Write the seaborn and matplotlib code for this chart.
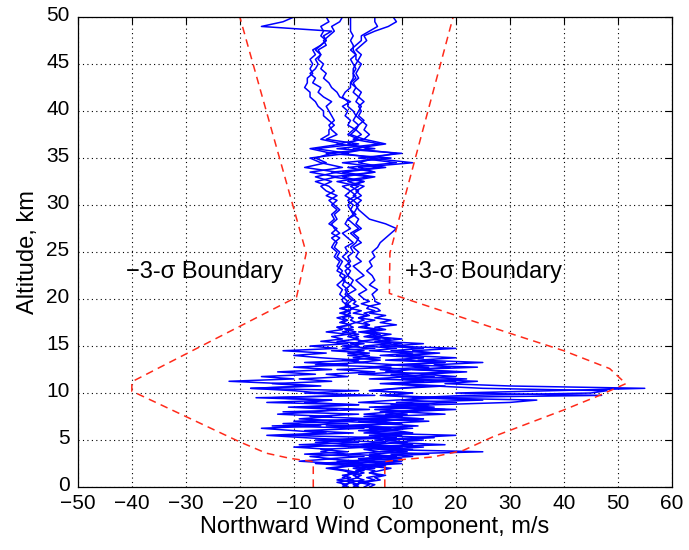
import numpy as np
import pandas as pd
import matplotlib
matplotlib.use("Agg")
import matplotlib.pyplot as plt
import matplotlib.transforms as mtransforms
import seaborn as sns

# ---------------- data ----------------
# sampling altitudes (km): 0.25 km below 20 km, 0.5 km above
alt_low = np.arange(0, 20, 0.25)
alt_high = np.arange(20, 50.01, 0.5)
altitude = np.concatenate([alt_low, alt_high])

p1 = [1, 2, 0.5, 3, 1.5, 2.5, 0, 3,
      1, 4, -2, 5, 2, 8, 0, 6,
      3, 10, 1, 7, -3, 9, 4, 12,
      2, 8, -4, 10, 5, 14, 3, 11,
      6, 18, 4, 15, 9, 25, 12, 47,
      20, 38, 55, 30, 18, 24, 10, 16,
      8, 20, 12, 24, 10, 18, 7, 14,
      6, 12, 4, 9, 3, 8, 2, 6,
      3, 5, 2, 6, 3, 4, 1.5, 3,
      2, 3.5, 1, 2.5, 0.5, 2, 1, 1.5,
      0.5, -0.5, 0, -1, -0.5, -1.5, -1, -2, -1.5, -2.5,
      -2, -3, -2.5, -1.5, -3, -2, -3.5, -2.5, -3, -2,
      -3, -2, -4, -2.5, -3.5, -6, -2, -7, -1, -5,
      -7, 0, -6, 2, -4, -2, -3, -3.5, -2.5, -3,
      -3.5, -4, -3, -4.5, -5.5, -5, -6.5, -6, -7, -6,
      -5.5, -6, -5, -5.5, -4, -4.5, -3.5, -2.5, -3, -1.5,
      -1]

p2 = [0, -1, 1, -2, 0.5, -1, 2, 0,
      -3, 1, -6, 2, -4, 3, -8, 0,
      -5, 4, -9, 2, -6, 6, -12, 1,
      -8, 3, -14, 0, -10, 5, -7, 2,
      -12, 4, -9, 2, -15, -3, -17, 5,
      -8, 2, -18, -5, -12, -22, -10, -16,
      -6, -13, -3, -10, 0, -8, 2, -5,
      -10, -4, -12, -2, -7, 0, -5, -1,
      -3, 0, -4, -1, -2, 0.5, -1.5, -0.5,
      -2, 0, -1, 0.5, -1.5, 0, -0.5, -1,
      -1, 0, -0.5, 0.5, -1, 0, -0.5, 0.5, 0, -1,
      0, -0.5, 1, 0, -1, 0.5, -0.5, 0, 1, 0.5,
      0, 1, -0.5, 0.5, 2, -2, 4, -3, 6, -1,
      8, -4, 5, -2, 3, 0.5, 1.5, 0, 0.5, -0.5,
      0, -1, 0.5, -1.5, -2, -3, -3.5, -4.5, -4, -5,
      -4.5, -5.5, -5, -6, -5, -4, -5, -4.5, -5, -3.5,
      -4]

p3 = [3, 4, 2, 5, 3.5, 6, 4, 5,
      2, 7, 0, 10, 4, 12, 8, 25,
      6, 14, 3, 11, 7, 16, 5, 12,
      9, 4, 13, 6, 15, 3, 10, 7,
      12, 5, 16, 8, 20, 10, 14, 6,
      12, 4, 9, 15, 6, 14, 10, 20,
      14, 22, 12, 19, 16, 25, 13, 20,
      11, 17, 8, 14, 6, 10, 5, 8,
      4, 6, 3, 5, 2, 4, 3, 5,
      2, 4, 3, 5, 3.5, 4, 2.5, 4,
      3, 2, 3.5, 2.5, 1.5, 3, 2, 1, 2.5, 1.5,
      2, 1, 2.5, 1.5, 0.5, 2, 1, 0, 1.5, 0.5,
      1, 0, 1.5, 0.5, -1, 3, -3, 5, 0, 9,
      2, 10, -2, 6, 1, 2.5, 1.5, 2, 3, 2,
      2.5, 2, 3, 2, 2.5, 1.5, 1, 2, 1.5, 2,
      2.5, 1.5, 1.5, 0.5, 1.5, 2.5, 2.5, 4, 5.5, 5,
      5]

p4 = [2, 1, 3, 0, 2, 1, 3, 1.5,
      5, 0, 8, -2, 10, 4, 15, 6,
      12, 4, 18, 8, 14, 2, 10, 6,
      4, 12, 0, 9, 2, 14, 6, 18,
      10, 20, 8, 16, 30, 35, 12, 22,
      45, 48, 25, 16, 8, 20, 4, 12,
      2, 10, 6, 15, 8, 18, 10, 14,
      9, 16, 12, 20, 8, 14, 6, 10,
      5, 8, 4, 7, 5, 9, 6, 8,
      5, 7, 4, 6, 5.5, 4, 6, 5,
      5, 4.5, 5.5, 4, 5, 4.5, 3.5, 4.5, 4, 5,
      4.5, 5.5, 6, 7, 8, 9, 7, 4, 3, 2,
      1.5, 2.5, 1, 2, 0.5, 3, -1, 5, 2, 12,
      4, 9, 1, 7, 3, 4, 3, 3.5, 2.5, 1.5,
      2, 2.5, 1.5, 2, 1, 1.5, 0.5, 1.5, 1, 1,
      1.5, 2, 2.5, 1.5, 2.5, 3.5, 3, 5, 7.5, 9,
      8.4]

p5 = [-1, 0, -2, 1, -1, 0, 1, -1,
      -4, 0, -2, -9, -3, -7, 0, -5,
      -3, -10, 2, -6, 0, -8, -15, -4,
      -10, -16, -5, -12, 0, -9, -3, -13,
      -6, -2, -11, 2, -8, -3, -14, 0,
      -5, -10, -18, -7, -14, -3, -9, 0,
      -4, 5, -2, 8, -6, 3, -1, 6,
      0, 4, -3, 5, -1, 3, -2, 2,
      0, 2, -1, 1, -2, 0.5, -1, 0,
      -1, 0.5, -1.5, 0, -1, 0.5, -0.5, 0,
      -0.5, -1.5, -1, -2, -1, -0.5, -2, -1.5, -1, -2,
      -1.5, -2.5, -2, -3, -1.5, -2.5, -3, -2, -2.5, -1.5,
      -2.5, -3.5, -2, -4, -5, -3, -6, -2, -8, -4,
      -6, -3, -7, -1, -5, -3.5, -3.5, -2.5, -3.5, -4.5,
      -4.5, -5.5, -6, -7, -7, -8, -7.5, -7.5, -6.5, -7,
      -6.5, -7, -6, -6.5, -5, -4, -4.5, -3, -16, -12,
      -10]

p6 = [4, 5, 3, 6, 5, 7, 4, 6,
      8, 3, 10, 5, 2, 9, 4, 11,
      6, 2, 12, 8, 5, 12, 20, 3,
      7, 11, 2, 8, -2, 6, 10, 3,
      8, 15, 5, 13, 2, 9, 18, 7,
      12, 4, 10, 18, 8, 13, 22, 10,
      16, 7, 12, 4, 9, 2, 6, 1,
      4, 0, 3, -1, 2, 0.5, 3, 1,
      2, 0, 1.5, -0.5, 1, 0, 1.5, 0.5,
      1, -0.5, 0.5, 0, 1, -0.5, 0, 0.5,
      1, 0, 1.5, 0.5, 1, 0, 0.5, -0.5, 0.5, 0,
      1, 0.5, 1.5, 2, 1, 2.5, 1.5, 2, 1, 1.5,
      2, 1, 2.5, 1.5, 3, 0, 5, -1, 7, 2,
      5, -1, 4, 0, 2, 0, 1, 2, 1, 1.5,
      1, 0, 0, -1, -0.5, 0.5, 0.5, 1, 1, 1.5,
      1, 0.5, 1.5, 1, 1, 0.5, 1, 0.5, 0.5, 0.5,
      0.5]

profiles = {"P1": p1, "P2": p2, "P3": p3, "P4": p4, "P5": p5, "P6": p6}

# -3 sigma / +3 sigma boundaries (wind m/s, altitude km)
lower_wind = [-6.4, -6.4, -10.7, -15.1, -20, -40, -40, -9.5, -7.7, -20]
lower_alt = [0, 2.7, 3.05, 3.6, 4.8, 10.2, 11.2, 20.2, 24.9, 50]
upper_wind = [6.85, 6.85, 9.6, 15.8, 21.4, 26.9, 40, 46, 51.5, 48.5, 40, 30.3, 7.7, 7.8, 19.5]
upper_alt = [0, 2.7, 2.9, 3.2, 3.9, 5.35, 8.2, 9.6, 11.0, 12.6, 14.5, 16.3, 20.6, 24.9, 50]

xticks = [-50, -40, -30, -20, -10, 0, 10, 20, 30, 40, 50, 60]
yticks = [0, 5, 10, 15, 20, 25, 30, 35, 40, 45, 50]

# ---------------- plot ----------------
sns.set_theme(style="white")
plt.rcParams["font.family"] = ["Liberation Sans", "DejaVu Sans"]

fig = plt.figure(figsize=(6.89, 5.5), dpi=100)
ax = fig.add_axes([0.113, 0.1145, 0.862, 0.8545])

for name, vals in profiles.items():
    sns.lineplot(x=vals, y=altitude, sort=False, estimator=None, color="#0000ff",
                 linewidth=1.1, ax=ax)

for wx, wy in [(lower_wind, lower_alt), (upper_wind, upper_alt)]:
    sns.lineplot(x=wx, y=wy, sort=False, estimator=None, color="#ff2a1a",
                 linewidth=1.1, ax=ax, dashes=False)
    ax.lines[-1].set_dashes((5, 3.5))

ax.set_xlim(-50, 60)
ax.set_ylim(0, 50)
ax.set_xticks(xticks)
ax.set_yticks(yticks)
ax.set_xticklabels([str(t).replace("-", "\u2212") for t in xticks])
ax.set_yticklabels([str(t) for t in yticks])
ax.grid(True, color="black", linestyle=(0, (1, 3)), linewidth=0.8)
ax.tick_params(direction="in", length=5, width=0.8, top=True, right=True,
               labelsize=15, colors="black")
ax.tick_params(axis="x", pad=5)
ax.tick_params(axis="y", pad=6)
for s in ax.spines.values():
    s.set_color("black")
    s.set_linewidth(0.9)

# y tick labels sit slightly above their ticks, as in the reference
shift = mtransforms.ScaledTranslation(0, 4 / 100, fig.dpi_scale_trans)
for lab in ax.get_yticklabels():
    lab.set_transform(lab.get_transform() + shift)

ax.set_xlabel("Northward Wind Component, m/s", fontsize=17, color="black", labelpad=2)
ax.set_ylabel("Altitude, km", fontsize=17, color="black", labelpad=5)

ax.text(-41, 22.9, "\u22123-\u03c3 Boundary", fontsize=17, va="center", ha="left", color="black")
ax.text(10.5, 22.9, "+3-\u03c3 Boundary", fontsize=17, va="center", ha="left", color="black")

fig.savefig("out.png", dpi=100)
